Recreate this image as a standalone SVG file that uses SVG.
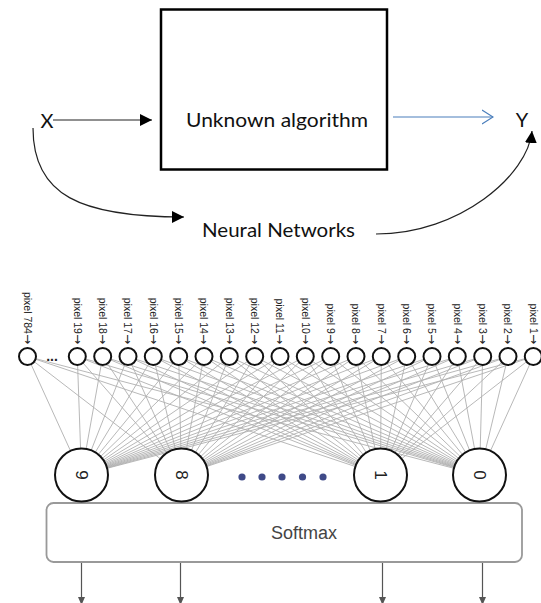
<svg xmlns="http://www.w3.org/2000/svg" width="541" height="603" viewBox="0 0 541 603">
<style>
.cal{font-family:Lato,"Liberation Sans",sans-serif;font-size:20px;fill:#111}
.pix{font-family:"Liberation Sans",Arial,sans-serif;font-size:10.5px;fill:#222;text-anchor:end}
.arr{font-family:"DejaVu Sans",sans-serif;font-size:12px}
.dig{font-family:"Liberation Sans",Arial,sans-serif;font-size:17px;fill:#222;text-anchor:middle}
.inc{fill:#fff;stroke:#111;stroke-width:2}
.outc{fill:#fff;stroke:#111;stroke-width:2}
.syn{fill:none;stroke:#b0b0b0;stroke-width:0.9}
.blk{fill:none;stroke:#222;stroke-width:1.2}
.out{stroke:#555;stroke-width:1.2}
.dot{fill:#3f4a88}
</style>
<defs>
<marker id="ah" markerUnits="userSpaceOnUse" markerWidth="12" markerHeight="12" refX="12" refY="6" orient="auto"><path d="M0,0 L12,6 L0,12 z" fill="#000"/></marker>
<marker id="ahb" markerUnits="userSpaceOnUse" markerWidth="13" markerHeight="16" refX="11.5" refY="8" orient="auto"><path d="M0.5,1 L11.5,8 L0.5,15" fill="none" stroke="#4a7ebb" stroke-width="1.1"/></marker>
<marker id="ahs" markerUnits="userSpaceOnUse" markerWidth="8" markerHeight="8" refX="8" refY="3.5" orient="auto"><path d="M0,0 L8,3.5 L0,7 z" fill="#555"/></marker>
</defs>

<g id="connectors">
<line x1="53" y1="120" x2="152" y2="120" class="blk" marker-end="url(#ah)"/>
<line x1="393" y1="117" x2="493" y2="117" stroke="#4a7ebb" stroke-width="1.1" marker-end="url(#ahb)"/>
<path d="M33,128 C33,195 80,217 184,217" class="blk" marker-end="url(#ah)"/>
<path d="M376,234 C460,234 528,175 532,131" class="blk" marker-end="url(#ah)"/>
<g class="syn">
<path d="M27.5,356.5L81.5,475M27.5,356.5L181.5,475M27.5,356.5L380.5,475M27.5,356.5L479.5,475"/>
<path d="M77.3,356.5L81.5,475M77.3,356.5L181.5,475M77.3,356.5L380.5,475M77.3,356.5L479.5,475"/>
<path d="M102.7,356.5L81.5,475M102.7,356.5L181.5,475M102.7,356.5L380.5,475M102.7,356.5L479.5,475"/>
<path d="M128,356.5L81.5,475M128,356.5L181.5,475M128,356.5L380.5,475M128,356.5L479.5,475"/>
<path d="M153.3,356.5L81.5,475M153.3,356.5L181.5,475M153.3,356.5L380.5,475M153.3,356.5L479.5,475"/>
<path d="M178.7,356.5L81.5,475M178.7,356.5L181.5,475M178.7,356.5L380.5,475M178.7,356.5L479.5,475"/>
<path d="M204,356.5L81.5,475M204,356.5L181.5,475M204,356.5L380.5,475M204,356.5L479.5,475"/>
<path d="M229.3,356.5L81.5,475M229.3,356.5L181.5,475M229.3,356.5L380.5,475M229.3,356.5L479.5,475"/>
<path d="M254.7,356.5L81.5,475M254.7,356.5L181.5,475M254.7,356.5L380.5,475M254.7,356.5L479.5,475"/>
<path d="M280,356.5L81.5,475M280,356.5L181.5,475M280,356.5L380.5,475M280,356.5L479.5,475"/>
<path d="M305.3,356.5L81.5,475M305.3,356.5L181.5,475M305.3,356.5L380.5,475M305.3,356.5L479.5,475"/>
<path d="M330.7,356.5L81.5,475M330.7,356.5L181.5,475M330.7,356.5L380.5,475M330.7,356.5L479.5,475"/>
<path d="M356,356.5L81.5,475M356,356.5L181.5,475M356,356.5L380.5,475M356,356.5L479.5,475"/>
<path d="M381.3,356.5L81.5,475M381.3,356.5L181.5,475M381.3,356.5L380.5,475M381.3,356.5L479.5,475"/>
<path d="M406.7,356.5L81.5,475M406.7,356.5L181.5,475M406.7,356.5L380.5,475M406.7,356.5L479.5,475"/>
<path d="M432,356.5L81.5,475M432,356.5L181.5,475M432,356.5L380.5,475M432,356.5L479.5,475"/>
<path d="M457.3,356.5L81.5,475M457.3,356.5L181.5,475M457.3,356.5L380.5,475M457.3,356.5L479.5,475"/>
<path d="M482.7,356.5L81.5,475M482.7,356.5L181.5,475M482.7,356.5L380.5,475M482.7,356.5L479.5,475"/>
<path d="M508,356.5L81.5,475M508,356.5L181.5,475M508,356.5L380.5,475M508,356.5L479.5,475"/>
<path d="M533.3,356.5L81.5,475M533.3,356.5L181.5,475M533.3,356.5L380.5,475M533.3,356.5L479.5,475"/>
</g>
<line x1="81.5" y1="562" x2="81.5" y2="605" class="out" marker-end="url(#ahs)"/>
<line x1="180.5" y1="562" x2="180.5" y2="605" class="out" marker-end="url(#ahs)"/>
<line x1="382.5" y1="562" x2="382.5" y2="605" class="out" marker-end="url(#ahs)"/>
<line x1="482.5" y1="562" x2="482.5" y2="605" class="out" marker-end="url(#ahs)"/>
</g>

<g id="node-x"><text class="cal" x="47" y="128" text-anchor="middle">X</text></g>
<g id="node-unknown">
<rect x="161" y="9.5" width="226" height="160" fill="#fff" stroke="#000" stroke-width="2.5"/>
<text class="cal" x="186" y="127" textLength="182" lengthAdjust="spacingAndGlyphs">Unknown algorithm</text>
</g>
<g id="node-y"><text class="cal" x="522" y="127" text-anchor="middle">Y</text></g>
<g id="node-nn"><text class="cal" x="202" y="237" textLength="153" lengthAdjust="spacingAndGlyphs">Neural Networks</text></g>

<g id="inputs">
<g id="in-784"><circle class="inc" cx="27.5" cy="356.5" r="8.5"/><text class="pix" transform="translate(27.5,344) rotate(90)" y="3.6">pixel 784<tspan class="arr">→</tspan></text></g>
<g id="in-ellipsis"><text x="52" y="361" font-family="Liberation Sans,Arial,sans-serif" font-size="14" font-weight="bold" fill="#222" text-anchor="middle">...</text></g>
<g id="in-19"><circle class="inc" cx="77.3" cy="356.5" r="8.5"/><text class="pix" transform="translate(77.3,344) rotate(90)" y="3.6">pixel 19<tspan class="arr">→</tspan></text></g>
<g id="in-18"><circle class="inc" cx="102.7" cy="356.5" r="8.5"/><text class="pix" transform="translate(102.7,344) rotate(90)" y="3.6">pixel 18<tspan class="arr">→</tspan></text></g>
<g id="in-17"><circle class="inc" cx="128" cy="356.5" r="8.5"/><text class="pix" transform="translate(128,344) rotate(90)" y="3.6">pixel 17<tspan class="arr">→</tspan></text></g>
<g id="in-16"><circle class="inc" cx="153.3" cy="356.5" r="8.5"/><text class="pix" transform="translate(153.3,344) rotate(90)" y="3.6">pixel 16<tspan class="arr">→</tspan></text></g>
<g id="in-15"><circle class="inc" cx="178.7" cy="356.5" r="8.5"/><text class="pix" transform="translate(178.7,344) rotate(90)" y="3.6">pixel 15<tspan class="arr">→</tspan></text></g>
<g id="in-14"><circle class="inc" cx="204" cy="356.5" r="8.5"/><text class="pix" transform="translate(204,344) rotate(90)" y="3.6">pixel 14<tspan class="arr">→</tspan></text></g>
<g id="in-13"><circle class="inc" cx="229.3" cy="356.5" r="8.5"/><text class="pix" transform="translate(229.3,344) rotate(90)" y="3.6">pixel 13<tspan class="arr">→</tspan></text></g>
<g id="in-12"><circle class="inc" cx="254.7" cy="356.5" r="8.5"/><text class="pix" transform="translate(254.7,344) rotate(90)" y="3.6">pixel 12<tspan class="arr">→</tspan></text></g>
<g id="in-11"><circle class="inc" cx="280" cy="356.5" r="8.5"/><text class="pix" transform="translate(280,344) rotate(90)" y="3.6">pixel 11<tspan class="arr">→</tspan></text></g>
<g id="in-10"><circle class="inc" cx="305.3" cy="356.5" r="8.5"/><text class="pix" transform="translate(305.3,344) rotate(90)" y="3.6">pixel 10<tspan class="arr">→</tspan></text></g>
<g id="in-9"><circle class="inc" cx="330.7" cy="356.5" r="8.5"/><text class="pix" transform="translate(330.7,344) rotate(90)" y="3.6">pixel 9<tspan class="arr">→</tspan></text></g>
<g id="in-8"><circle class="inc" cx="356" cy="356.5" r="8.5"/><text class="pix" transform="translate(356,344) rotate(90)" y="3.6">pixel 8<tspan class="arr">→</tspan></text></g>
<g id="in-7"><circle class="inc" cx="381.3" cy="356.5" r="8.5"/><text class="pix" transform="translate(381.3,344) rotate(90)" y="3.6">pixel 7<tspan class="arr">→</tspan></text></g>
<g id="in-6"><circle class="inc" cx="406.7" cy="356.5" r="8.5"/><text class="pix" transform="translate(406.7,344) rotate(90)" y="3.6">pixel 6<tspan class="arr">→</tspan></text></g>
<g id="in-5"><circle class="inc" cx="432" cy="356.5" r="8.5"/><text class="pix" transform="translate(432,344) rotate(90)" y="3.6">pixel 5<tspan class="arr">→</tspan></text></g>
<g id="in-4"><circle class="inc" cx="457.3" cy="356.5" r="8.5"/><text class="pix" transform="translate(457.3,344) rotate(90)" y="3.6">pixel 4<tspan class="arr">→</tspan></text></g>
<g id="in-3"><circle class="inc" cx="482.7" cy="356.5" r="8.5"/><text class="pix" transform="translate(482.7,344) rotate(90)" y="3.6">pixel 3<tspan class="arr">→</tspan></text></g>
<g id="in-2"><circle class="inc" cx="508" cy="356.5" r="8.5"/><text class="pix" transform="translate(508,344) rotate(90)" y="3.6">pixel 2<tspan class="arr">→</tspan></text></g>
<g id="in-1"><circle class="inc" cx="533.3" cy="356.5" r="8.5"/><text class="pix" transform="translate(533.3,344) rotate(90)" y="3.6">pixel 1<tspan class="arr">→</tspan></text></g>
</g>

<g id="softmax">
<rect x="46.5" y="503" width="475.5" height="59" rx="7" fill="#fff" stroke="#999" stroke-width="1.8"/>
<text x="304" y="539" font-family="Liberation Sans,Arial,sans-serif" font-size="18" fill="#444" text-anchor="middle">Softmax</text>
</g>

<g id="outputs">
<g id="out-9"><circle class="outc" cx="81.5" cy="475" r="26.5"/><text class="dig" transform="translate(81.5,475) rotate(90)" y="6">9</text></g>
<g id="out-8"><circle class="outc" cx="181.5" cy="475" r="26.5"/><text class="dig" transform="translate(181.5,475) rotate(90)" y="6">8</text></g>
<g id="out-dots">
<circle class="dot" cx="242" cy="477" r="3.6"/><circle class="dot" cx="262" cy="477" r="3.6"/><circle class="dot" cx="282" cy="477" r="3.6"/><circle class="dot" cx="302.5" cy="477" r="3.6"/><circle class="dot" cx="323" cy="477" r="3.6"/>
</g>
<g id="out-1"><circle class="outc" cx="380.5" cy="475" r="26.5"/><text class="dig" transform="translate(380.5,475) rotate(90)" y="6">1</text></g>
<g id="out-0"><circle class="outc" cx="479.5" cy="475" r="26.5"/><text class="dig" transform="translate(479.5,475) rotate(90)" y="6">0</text></g>
</g>
</svg>
